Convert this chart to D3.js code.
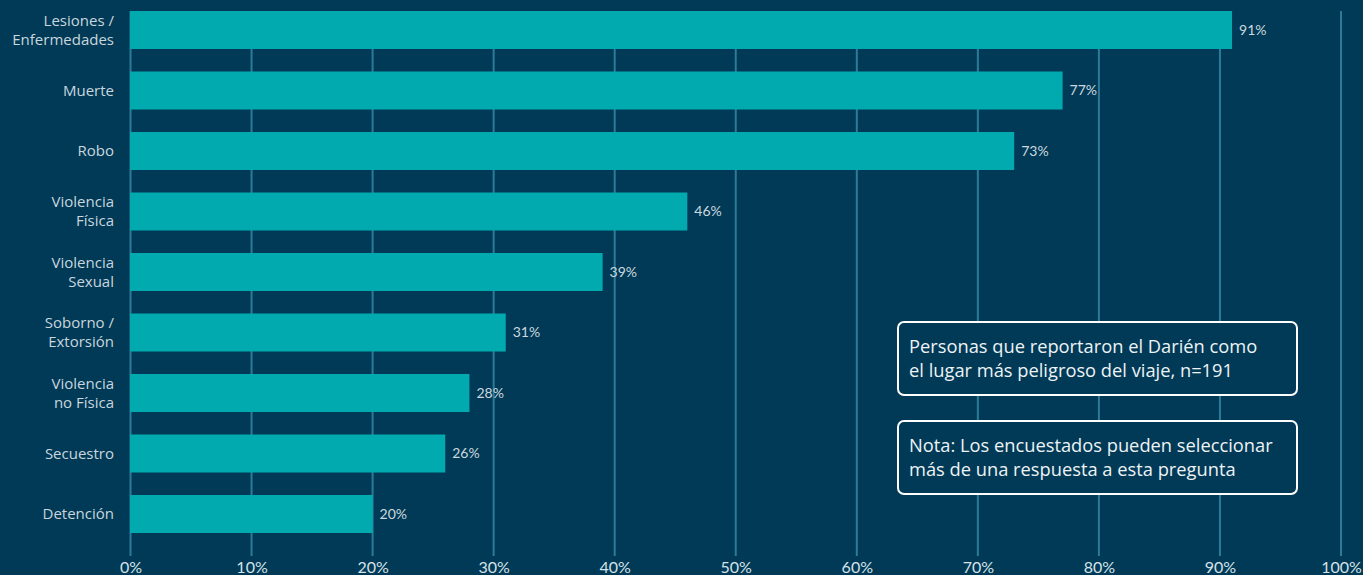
<!doctype html>
<html>
<head>
<meta charset="UTF-8">
<title>Darién</title>
<script src="https://d3js.org/d3.v7.min.js"></script>
<style>
  html, body { margin:0; padding:0; background:#003a57; }
  svg { display:block; }
</style>
</head>
<body>
<script>
  var w = 1363, h = 575;

  // datos
  var categorias = [
    ["Lesiones /", "Enfermedades"],
    ["Muerte"],
    ["Robo"],
    ["Violencia", "Física"],
    ["Violencia", "Sexual"],
    ["Soborno /", "Extorsión"],
    ["Violencia", "no Física"],
    ["Secuestro"],
    ["Detención"]
  ];
  var valores = [91, 77, 73, 46, 39, 31, 28, 26, 20];
  var ticks = [0, 10, 20, 30, 40, 50, 60, 70, 80, 90, 100];
  var notas = [
    ["Personas que reportaron el Darién como", "el lugar más peligroso del viaje, n=191"],
    ["Nota: Los encuestados pueden seleccionar", "más de una respuesta a esta pregunta"]
  ];

  var svg = d3.select("body").append("svg").attr("width", w).attr("height", h);
  svg.append("rect").attr("width", w).attr("height", h).attr("fill", "#003a57");

  var x = d3.scaleLinear().domain([0, 100]).range([130.5, 1341]);
  var y = d3.scaleBand().domain(d3.range(valores.length)).range([11, 533]).paddingInner(0.372).paddingOuter(0);

  // lineas de grilla
  svg.append("g").selectAll("line").data(ticks).join("line")
    .attr("x1", d => x(d)).attr("x2", d => x(d))
    .attr("y1", 11).attr("y2", 556)
    .attr("stroke", "#2b7b99").attr("stroke-width", 2);

  // barras
  svg.append("g").selectAll("rect").data(valores).join("rect")
    .attr("x", x(0) - 0.5)
    .attr("y", (d, i) => y(i))
    .attr("width", d => x(d) - x(0) + 0.5)
    .attr("height", y.bandwidth())
    .attr("fill", "#00aaaf");

  // valores
  svg.append("g").selectAll("text").data(valores).join("text")
    .attr("x", d => x(d) + 7)
    .attr("y", (d, i) => y(i) + y.bandwidth() / 2)
    .attr("dy", "0.35em")
    .attr("font-family", "Lato, sans-serif")
    .attr("font-size", 14)
    .attr("fill", "#ccd8df")
    .text(d => d + "%");

  // categorias
  var cat = svg.append("g").selectAll("text").data(categorias).join("text")
    .attr("text-anchor", "end")
    .attr("font-family", "'Open Sans', sans-serif")
    .attr("font-size", 15)
    .attr("fill", "#c9d6de");
  cat.each(function(lines, i) {
    var cy = y(i) + y.bandwidth() / 2;
    var t = d3.select(this);
    lines.forEach(function(l, j) {
      t.append("tspan").attr("x", 114)
        .attr("y", cy + (j - (lines.length - 1) / 2) * 19)
        .attr("dy", "0.35em")
        .text(l);
    });
  });

  // eje x
  var axis = svg.append("g").attr("transform", "translate(0,556)")
    .call(d3.axisBottom(x).tickValues(ticks).tickFormat(d => d + "%").tickSize(0).tickPadding(6));
  axis.select(".domain").remove();
  axis.selectAll("text")
    .attr("font-family", "Lato, sans-serif")
    .attr("font-size", 16)
    .attr("fill", "#d6e2e8");

  // cuadros de nota
  var boxY = [322, 421];
  var caja = svg.append("g").selectAll("g").data(notas).join("g")
    .attr("transform", (d, i) => "translate(898," + boxY[i] + ")");
  caja.append("rect")
    .attr("width", 399).attr("height", 73).attr("rx", 6)
    .attr("fill", "#003a57").attr("stroke", "#ffffff").attr("stroke-width", 2);
  caja.append("text")
    .attr("font-family", "'Open Sans', sans-serif")
    .attr("font-size", 18.3)
    .attr("fill", "#eef3f5")
    .selectAll("tspan").data(d => d).join("tspan")
    .attr("x", 11).attr("y", (d, j) => 31 + j * 23.5)
    .text(d => d);
</script>
</body>
</html>
